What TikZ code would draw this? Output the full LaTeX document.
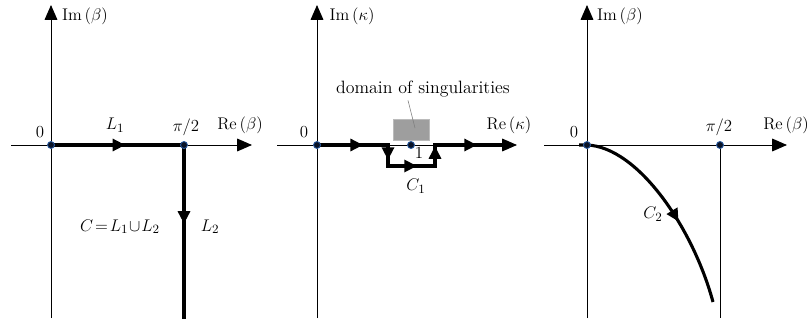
\documentclass[tikz,border=0pt]{standalone}
\usepackage{amsmath, amssymb}
\usepackage{tikz}
\usetikzlibrary{arrows.meta, positioning, decorations.markings, backgrounds}
\definecolor{dotblue}{RGB}{45,95,165}
\definecolor{dotfill}{RGB}{10,20,40}
\definecolor{singgray}{RGB}{158,158,158}
\newcommand{\cTip}{\arrow{Triangle[length=9pt, width=8.5pt]}}

\begin{document}
\begin{tikzpicture}[x=0.025cm, y=-0.025cm, >=Stealth]
  \tikzstyle{axis} = [line width=0.7pt, -{Triangle[length=10.5pt, width=9pt]}]
  \tikzstyle{thinline} = [line width=0.7pt]
  \tikzstyle{contour} = [line width=2.2pt]
  \tikzstyle{pt} = [circle, fill=dotfill, draw=dotblue, line width=0.6pt, inner sep=0pt, minimum size=5pt]
  \tikzstyle{lbl} = [font=\fontsize{12.7}{15}\selectfont, inner sep=0pt]

  \useasboundingbox (0,0) rectangle (809,328);

  % beta plane, contour C
  \node [pt] (o1) at (51,145) {};
  \node [pt] (h1) at (184,145) {};
  \coordinate (x1l) at (11,145);
  \coordinate (x1r) at (252,145);
  \coordinate (y1b) at (51,318);
  \coordinate (y1t) at (51,5);
  \coordinate (l2e) at (184,319);

  \node [lbl, anchor=base] (zero1) at (40,138) {$0$};
  \node [lbl, anchor=base] (hp1) at (186,132) {$\pi/2$};
  \node [lbl, anchor=base] (re1) at (240,129) {$\mathrm{Re}\,(\beta)$};
  \node [lbl] (im1) at (85,16) {$\mathrm{Im}\,(\beta)$};
  \node [lbl, anchor=base] (ll1) at (115,130) {$L_1$};
  \node [lbl, anchor=base] (ll2) at (210,231) {$L_2$};
  \node [lbl, anchor=base] (cc) at (120,231) {$C\!=\!L_1\!\cup\! L_2$};

  \begin{scope}[on background layer]
    \draw[axis] (x1l) -- (x1r);
    \draw[axis] (y1b) -- (y1t);
    \draw[contour, decoration={markings, mark=at position 0.242 with {\cTip}, mark=at position 0.69 with {\cTip}}, postaction={decorate}]
      (o1.center) -- (h1.center) -- (l2e);
  \end{scope}

  % kappa plane, contour C_1
  \node [pt] (o2) at (317,145) {};
  \node [pt] (k1) at (411,145) {};
  \coordinate (x2l) at (277,145);
  \coordinate (x2r) at (517,145);
  \coordinate (y2b) at (317,318);
  \coordinate (y2t) at (317,5);
  \coordinate (c1a) at (388,145);
  \coordinate (c1b) at (388,166);
  \coordinate (c1c) at (435,166);
  \coordinate (c1d) at (435,145);
  \coordinate (c1e) at (502,145);

  \node [lbl, anchor=base] (zero2) at (304,138) {$0$};
  \node [lbl, anchor=base] (re2) at (509,129) {$\mathrm{Re}\,(\kappa)$};
  \node [lbl] (im2) at (352,16) {$\mathrm{Im}\,(\kappa)$};
  \node [lbl] (one) at (419,153) {$1$};
  \node [lbl] (cc1) at (416,186) {$C_1$};
  \node [lbl] (dom) at (423,89) {domain of singularities};

  \begin{scope}[on background layer]
    \fill[singgray, draw=singgray!70, line width=0.5pt] (393,119) rectangle (429,140);
    \draw[singgray!80!black, line width=0.4pt] (dom.south) ++(-15,3) coordinate (lead) -- (415,128);
    \draw[axis] (x2l) -- (x2r);
    \draw[axis] (y2b) -- (y2t);
    \draw[contour, decoration={markings, mark=at position 0.203 with {\cTip}, mark=at position 0.379 with {\cTip},
        mark=at position 0.533 with {\cTip}, mark=at position 0.70 with {\cTip}, mark=at position 0.89 with {\cTip}}, postaction={decorate}]
      (o2.center) -- (c1a) -- (c1b) -- (c1c) -- (c1d) -- (c1e);
  \end{scope}

  % beta plane, contour C_2
  \node [pt] (o3) at (587,145) {};
  \node [pt] (h3) at (720,145) {};
  \coordinate (x3l) at (544,145);
  \coordinate (x3r) at (787,145);
  \coordinate (y3b) at (587,318);
  \coordinate (y3t) at (587,5);
  \coordinate (h3b) at (720,318);
  \coordinate (s3) at (579,145);
  \coordinate (e3) at (713,302);

  \node [lbl, anchor=base] (zero3) at (574,138) {$0$};
  \node [lbl, anchor=base] (hp3) at (719,132) {$\pi/2$};
  \node [lbl, anchor=base] (re3) at (786,129) {$\mathrm{Re}\,(\beta)$};
  \node [lbl] (im3) at (620,16) {$\mathrm{Im}\,(\beta)$};
  \node [lbl] (cc2) at (653,214) {$C_2$};

  \begin{scope}[on background layer]
    \draw[axis] (x3l) -- (x3r);
    \draw[axis] (y3b) -- (y3t);
    \draw[thinline] (h3.center) -- (h3b);
    \draw[contour, decoration={markings, mark=at position 0.6 with {\cTip}}, postaction={decorate}]
      (s3) -- (o3.center) .. controls (638,147) and (693,228) .. (e3);
  \end{scope}
\end{tikzpicture}
\end{document}
